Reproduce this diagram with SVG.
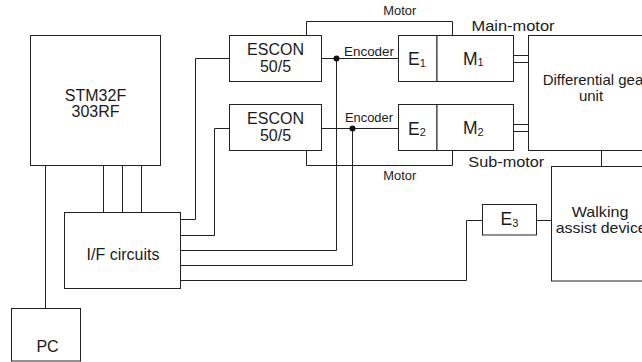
<svg xmlns="http://www.w3.org/2000/svg" width="642" height="362" viewBox="0 0 642 362">
<style>
rect.b{fill:#fff;stroke:#222;stroke-width:1}
.c path,.c line{fill:none;stroke:#222;stroke-width:1}
text{font-family:"Liberation Sans",Arial,sans-serif;fill:#1a1a1a}
.t16{font-size:16px}
.lab{font-size:12px}
.lab15{font-size:15px}
.sub{font-size:11px}
</style>
<rect width="642" height="362" fill="#fff"/>
<g id="connectors" class="c">
  <path d="M45.5,165.5V308.5"/>
  <path d="M103.5,165.5V212.5M122.5,165.5V212.5M141.5,165.5V212.5"/>
  <path d="M180.5,219.5H195.5V58.5H229.5"/>
  <path d="M180.5,235.5H214.5V128.5H229.5"/>
  <path d="M180.5,250.5H336.5V58.5"/>
  <path d="M180.5,265.5H352.5V128.5"/>
  <path d="M180.5,280.5H466.5V220.5H482.5"/>
  <path d="M536.5,220.5H551.5"/>
  <path d="M321.5,58.5H398.5"/>
  <path d="M321.5,128.5H398.5"/>
  <path d="M306.5,35.5V21.5H452.5V35.5"/>
  <path d="M306.5,150.5V165.5H452.5V150.5"/>
  <path d="M513.5,55.5H528.5M513.5,62.5H528.5"/>
  <path d="M513.5,124.5H528.5M513.5,131.5H528.5"/>
  <path d="M601.5,150.5V166.5"/>
  <circle cx="336.5" cy="58.5" r="3" fill="#111"/>
  <circle cx="352.5" cy="128.5" r="3" fill="#111"/>
  <text class="lab" x="383.3" y="15" textLength="33" lengthAdjust="spacingAndGlyphs">Motor</text>
  <text class="lab" x="383.3" y="179.5" textLength="33" lengthAdjust="spacingAndGlyphs">Motor</text>
  <text class="lab" x="344" y="55.5" textLength="50" lengthAdjust="spacingAndGlyphs">Encoder</text>
  <text class="lab" x="345" y="122" textLength="48" lengthAdjust="spacingAndGlyphs">Encoder</text>
  <text class="lab15" x="471.5" y="31" textLength="83" lengthAdjust="spacingAndGlyphs">Main-motor</text>
  <text class="lab15" x="468.3" y="166.5" textLength="76" lengthAdjust="spacingAndGlyphs">Sub-motor</text>
</g>
<g id="stm32">
  <rect class="b" x="30.5" y="35.5" width="130" height="130"/>
  <text class="t16" x="95.5" y="101" text-anchor="middle">STM32F</text>
  <text class="t16" x="95.5" y="117" text-anchor="middle">303RF</text>
</g>
<g id="if">
  <rect class="b" x="64.5" y="212.5" width="116" height="76"/>
  <text class="t16" x="123" y="259.5" text-anchor="middle">I/F circuits</text>
</g>
<g id="pc">
  <rect class="b" x="11.5" y="308.5" width="69" height="52.5"/>
  <text class="t16" x="47.5" y="352" text-anchor="middle">PC</text>
</g>
<g id="escon1">
  <rect class="b" x="229.5" y="35.5" width="92" height="46"/>
  <text class="t16" x="275.5" y="55" text-anchor="middle">ESCON</text>
  <text class="t16" x="275.5" y="72" text-anchor="middle">50/5</text>
</g>
<g id="escon2">
  <rect class="b" x="229.5" y="104.5" width="92" height="46"/>
  <text class="t16" x="275.5" y="124" text-anchor="middle">ESCON</text>
  <text class="t16" x="275.5" y="141" text-anchor="middle">50/5</text>
</g>
<g id="e1">
  <rect class="b" x="398.5" y="35.5" width="38.5" height="46"/>
  <text x="408" y="65" style="font-size:17.5px">E<tspan class="sub" dy="1.5">1</tspan></text>
</g>
<g id="m1">
  <rect class="b" x="437" y="35.5" width="76.5" height="46"/>
  <text x="463" y="64.5" style="font-size:17.5px">M<tspan class="sub" dy="1.5">1</tspan></text>
</g>
<g id="e2">
  <rect class="b" x="398.5" y="104.5" width="38.5" height="46"/>
  <text x="408" y="134.5" style="font-size:17.5px">E<tspan class="sub" dy="1.5">2</tspan></text>
</g>
<g id="m2">
  <rect class="b" x="437" y="104.5" width="76.5" height="46"/>
  <text x="463" y="134" style="font-size:17.5px">M<tspan class="sub" dy="1.5">2</tspan></text>
</g>
<g id="diff">
  <rect class="b" x="528.5" y="35.5" width="125" height="115"/>
  <text x="542.7" y="85" style="font-size:15px">Differential gear</text>
  <text x="591" y="101" text-anchor="middle" style="font-size:15px">unit</text>
</g>
<g id="e3">
  <rect class="b" x="482.5" y="204.5" width="54" height="30.5"/>
  <text x="500.5" y="225.3" style="font-size:17.5px">E<tspan class="sub" dy="1.5">3</tspan></text>
</g>
<g id="walking">
  <rect class="b" x="551.5" y="166.5" width="98" height="114.5"/>
  <text class="lab15" x="571.7" y="216.5" textLength="56.7" lengthAdjust="spacingAndGlyphs">Walking</text>
  <text class="lab15" x="555.7" y="232.7" textLength="91" lengthAdjust="spacingAndGlyphs">assist device</text>
</g>
</svg>
